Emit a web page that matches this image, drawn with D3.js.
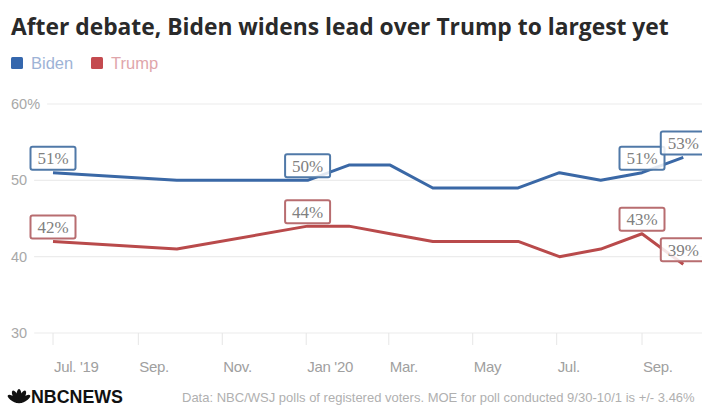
<!DOCTYPE html>
<html><head><meta charset="utf-8">
<script src="https://cdn.jsdelivr.net/npm/d3@7"></script>
<style>html,body{margin:0;padding:0;background:#fff;}svg{display:block;}</style>
</head><body>
<svg id="chart" width="702" height="406"></svg>
<script>
const titleText = "After debate, Biden widens lead over Trump to largest yet";
const sourceText = "Data: NBC/WSJ polls of registered voters. MOE for poll conducted 9/30-10/1 is +/- 3.46%";
const pollDates = ["2019-07-01","2019-09-29","2020-01-02","2020-02-01","2020-03-02","2020-04-02","2020-06-03","2020-07-03","2020-08-02","2020-09-01","2020-10-01"];
const biden = [51,50,50,52,52,49,49,51,50,51,53];
const trump = [42,41,44,44,43,42,42,40,41,43,39];
const labelIdx = [0,2,9,10];
const yTicks = [30,40,50,60];
const yTickLabels = ["30","40","50","60%"];
const xTickLabels = ["Jul. '19","Sep.","Nov.","Jan '20","Mar.","May","Jul.","Sep."];
const seriesNames = ["Biden","Trump"];

const svg = d3.select("#chart");
const parse = d3.timeParse("%Y-%m-%d");
const dates = pollDates.map(parse);

const x = d3.scaleTime().domain([parse("2019-07-01"), parse("2020-09-01")]).range([53, 642]);
const y = d3.scaleLinear().domain([30, 60]).range([333, 104]);

// title
const t = svg.append("text").attr("x", 11).attr("y", 35)
  .attr("font-family", "'Open Sans', 'Liberation Sans', sans-serif")
  .attr("font-weight", 700).attr("font-size", 22).attr("fill", "#2a2a2a").text(titleText);
const tw = t.node().getComputedTextLength();
t.attr("font-size", 22 * 658 / tw);

// legend
const legColors = ["#3567ad", "#c44a4f"];
const legText = ["#9db3d6", "#dfa6ab"];
const legX = [11, 91];
seriesNames.forEach((n, i) => {
  svg.append("rect").attr("x", legX[i]).attr("y", 57).attr("width", 12).attr("height", 12).attr("rx", 1.5).attr("fill", legColors[i]);
  svg.append("text").attr("x", legX[i] + 20).attr("y", 68.5).attr("font-family", "'Liberation Sans', Arial, sans-serif")
    .attr("font-size", 16.5).attr("fill", legText[i]).text(n);
});

// y grid + labels
yTicks.forEach((v, i) => {
  const lab = svg.append("text").attr("x", 11).attr("y", y(v) + 5)
    .attr("font-family", "'Liberation Sans', Arial, sans-serif").attr("font-size", 14.5)
    .attr("fill", "#a8a8a8").text(yTickLabels[i]);
  const w = lab.node().getComputedTextLength();
  svg.append("line").attr("x1", 11 + w + 7).attr("x2", 702).attr("y1", y(v)).attr("y2", y(v))
    .attr("stroke", "#ececec").attr("stroke-width", 1.2);
});

// x ticks
const xTicks = d3.timeMonth.every(2).range(parse("2019-07-01"), parse("2020-09-02"));
xTicks.forEach((d, i) => {
  svg.append("line").attr("x1", x(d)).attr("x2", x(d)).attr("y1", 333).attr("y2", 345)
    .attr("stroke", "#e6e6e6").attr("stroke-width", 1);
  svg.append("text").attr("x", x(d) + 1).attr("y", 372)
    .attr("font-family", "'Liberation Sans', Arial, sans-serif").attr("font-size", 15)
    .attr("fill", "#a0a0a0").attr("letter-spacing", -0.3).text(xTickLabels[i]);
});

// lines
const lineColors = ["#3a68a6", "#b94a4b"];
const boxColors = ["#5079a8", "#b86d70"];
[biden, trump].forEach((vals, s) => {
  const pts = vals.map((v, i) => [dates[i], v]);
  svg.append("path").datum(pts)
    .attr("d", d3.line().x(d => x(d[0])).y(d => y(d[1])))
    .attr("fill", "none").attr("stroke", lineColors[s]).attr("stroke-width", 3)
    .attr("stroke-linejoin", "round");
});
[biden, trump].forEach((vals, s) => {
  labelIdx.forEach(i => {
    const cx = x(dates[i]), cy = y(vals[i]);
    const g = svg.append("g");
    g.append("rect").attr("x", cx - 22.5).attr("y", cy - 26).attr("width", 45).attr("height", 23)
      .attr("rx", 2).attr("fill", "rgba(255,255,255,0.85)").attr("stroke", boxColors[s]).attr("stroke-width", 2);
    g.append("text").attr("x", cx).attr("y", cy - 8.5).attr("text-anchor", "middle")
      .attr("font-family", "'Liberation Serif', 'Times New Roman', serif").attr("font-size", 17)
      .attr("fill", "#808080").text(vals[i] + "%");
  });
});

// footer logo
const logo = svg.append("g").attr("transform", "translate(10,388)");
const fan = [-60, -30, 0, 30, 60];
fan.forEach(a => {
  logo.append("ellipse").attr("cx", 9).attr("cy", 8).attr("rx", 2.6).attr("ry", 7)
    .attr("transform", `rotate(${a},9,14)`).attr("fill", "#111");
});
logo.append("rect").attr("x", 6).attr("y", 11).attr("width", 6).attr("height", 4).attr("fill", "#111");
const lt = logo.append("text").attr("x", 21).attr("y", 15)
  .attr("font-family", "'Liberation Sans Narrow', 'Liberation Sans', Arial, sans-serif")
  .attr("font-weight", 700).attr("font-size", 17.5).attr("fill", "#111").text("NBCNEWS");
lt.attr("textLength", 92).attr("lengthAdjust", "spacingAndGlyphs");

const src = svg.append("text").attr("x", 182).attr("y", 402)
  .attr("font-family", "'Liberation Sans', Arial, sans-serif").attr("font-size", 13)
  .attr("fill", "#b0b0b0").text(sourceText);
const sw = src.node().getComputedTextLength();
if (182 + sw > 699) src.attr("font-size", 13 * (699 - 182) / sw);
</script>
</body></html>
